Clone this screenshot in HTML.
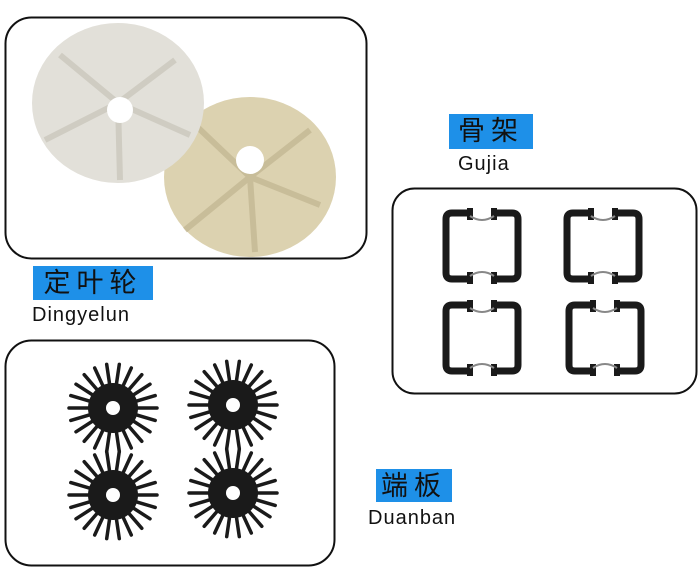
<!DOCTYPE html>
<html><head><meta charset="utf-8"><style>
body{margin:0;width:700px;height:575px;background:#fff;overflow:hidden;position:relative;font-family:"Liberation Sans","Noto Sans CJK SC",sans-serif}
.lab{position:absolute;background:#1e90e8;color:#111;font-size:27px;text-align:center;letter-spacing:6px;line-height:34px}
.en{position:absolute;font-size:20px;color:#111;letter-spacing:1px}
</style></head><body>
<svg id="s" width="700" height="575" style="position:absolute;left:0;top:0">
<defs>
<g id="gear"><g id="spk" stroke="#1a1a1a" stroke-width="3.5" stroke-linecap="round"></g>
<circle r="25" fill="#1a1a1a"/><circle r="7" fill="#fff"/>
</g>
<g id="frame" fill="none" stroke="#1a1a1a" stroke-width="7">
<path d="M-12,-33 H-30 Q-36,-33 -36,-27 V27 Q-36,33 -30,33 H-12 M12,-33 H30 Q36,-33 36,-27 V27 Q36,33 30,33 H12"/>
<path d="M-12,-38 V-26 M12,-38 V-26 M-12,38 V26 M12,38 V26" stroke-width="6"/>
<path d="M-12,-30 Q0,-22 12,-30 M-12,30 Q0,22 12,30" stroke="#888" stroke-width="2"/>
</g>
</defs>
<rect x="5.5" y="17.5" width="361" height="241" rx="26" fill="none" stroke="#111" stroke-width="2"/>
<rect x="5.5" y="340.5" width="329" height="225" rx="26" fill="none" stroke="#111" stroke-width="2"/>
<rect x="392.5" y="188.5" width="304" height="205" rx="22" fill="none" stroke="#111" stroke-width="2"/>
<ellipse cx="250" cy="177" rx="86" ry="80" fill="#dcd2b0"/>
<g stroke="#c4b894" stroke-width="6" opacity=".8">
<line x1="250" y1="177" x2="190" y2="120"/><line x1="250" y1="177" x2="310" y2="130"/><line x1="250" y1="177" x2="320" y2="205"/><line x1="250" y1="177" x2="255" y2="252"/><line x1="250" y1="177" x2="185" y2="230"/></g>
<circle cx="250" cy="160" r="14" fill="#fff"/>
<ellipse cx="118" cy="103" rx="86" ry="80" fill="#e2e0d9"/>
<g stroke="#cfccc2" stroke-width="6"><line x1="118" y1="103" x2="60" y2="55"/><line x1="118" y1="103" x2="175" y2="60"/><line x1="118" y1="103" x2="190" y2="135"/><line x1="118" y1="103" x2="120" y2="180"/><line x1="118" y1="103" x2="45" y2="140"/></g>
<circle cx="120" cy="110" r="13" fill="#fff"/>
<use href="#gear" x="113" y="408"/><use href="#gear" x="233" y="405"/>
<use href="#gear" x="113" y="495"/><use href="#gear" x="233" y="493"/>
<use href="#frame" x="482" y="246"/><use href="#frame" x="603" y="246"/>
<use href="#frame" x="482" y="338"/><use href="#frame" x="605" y="338"/>
</svg>
<script>
var g=document.getElementById('spk'),h='';
for(var i=0;i<22;i++){var a=i*2*Math.PI/22,c=Math.cos(a),s=Math.sin(a);
h+='<line x1="'+(c*22).toFixed(1)+'" y1="'+(s*22).toFixed(1)+'" x2="'+(c*44).toFixed(1)+'" y2="'+(s*44).toFixed(1)+'"/>';}
g.innerHTML=h;
</script>
<div class="lab" style="left:33px;top:266px;width:120px;height:34px">定叶轮</div>
<div class="en" style="left:32px;top:304px">Dingyelun</div>
<div class="lab" style="left:449px;top:114px;width:84px;height:35px">骨架</div>
<div class="en" style="left:458px;top:153px">Gujia</div>
<div class="lab" style="left:376px;top:469px;width:76px;height:33px">端板</div>
<div class="en" style="left:368px;top:507px">Duanban</div>
</body></html>
